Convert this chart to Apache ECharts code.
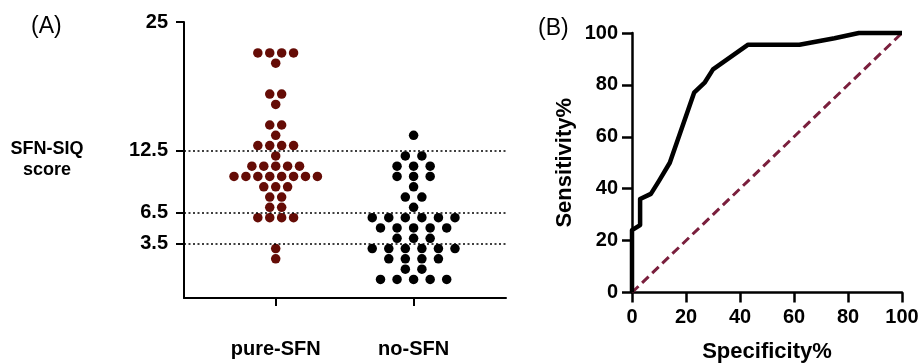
<!DOCTYPE html>
<html>
<head>
<meta charset="utf-8">
<script src="https://cdn.jsdelivr.net/npm/echarts@6/dist/echarts.min.js"></script>
<style>
  html, body { margin: 0; padding: 0; background: #fff; }
  #container { width: 919px; height: 363px; }
</style>
</head>
<body>
<div id="container"></div>
<script>
  // panel A: one entry per subject (SFN-SIQ score)
  let groups = ['pure-SFN', 'no-SFN'];
  let pureScores = [22, 22, 22, 22, 21, 18, 18, 17, 15, 15, 14, 13, 13, 13, 13, 12,
    11, 11, 11, 11, 11, 10, 10, 10, 10, 10, 10, 10, 10, 9, 9, 9, 8, 8, 7, 7,
    6, 6, 6, 6, 3, 2];
  let noScores = [14, 12, 12, 11, 11, 11, 10, 10, 10, 9, 8, 8, 7,
    6, 6, 6, 6, 6, 6, 5, 5, 5, 5, 5, 4, 4, 4, 3, 3, 3, 3, 3, 3, 2, 2, 2, 2, 1, 1,
    0, 0, 0, 0, 0];
  let cutoffs = [12.5, 6.5, 3.5];
  let yTicksA = [3.5, 6.5, 12.5, 25];

  // panel B: ROC curve
  let specificity = [0, 0, 3, 3, 7, 10, 14, 23, 27, 30, 43, 62, 75, 84, 100];
  let sensitivity = [0, 24, 26, 36, 38, 43, 50, 77, 81, 86, 95.5, 95.5, 98, 100, 100];

  let font = 'Liberation Sans, Arial, sans-serif';

  // spread dots of the same score side by side (beeswarm)
  function swarm(scores, center, step) {
    let rows = {};
    scores.forEach(function (s) { rows[s] = (rows[s] || 0) + 1; });
    let pts = [];
    Object.keys(rows).forEach(function (k) {
      let n = rows[k];
      for (let i = 0; i < n; i++) {
        pts.push([center + (i - (n - 1) / 2) * step, Number(k)]);
      }
    });
    return pts;
  }

  let myChart = echarts.init(document.getElementById('container'));
  let tickLabel = { color: '#000', fontFamily: font, fontWeight: 'bold', fontSize: 20 };

  let option = {
    animation: false,
    graphic: [
      { type: 'text', left: 31, top: 15, style: { text: '(A)', font: '23px ' + font, fill: '#000' } },
      { type: 'text', left: 538, top: 17, style: { text: '(B)', font: '23px ' + font, fill: '#000' } }
    ],
    grid: [
      { left: 184, top: 22, width: 322, height: 276, outerBoundsMode: 'none' },
      { left: 632, top: 33, width: 270, height: 259.5, outerBoundsMode: 'none' }
    ],
    xAxis: [
      {
        gridIndex: 0, type: 'value', min: -0.665, max: 1.67,
        splitLine: { show: false },
        axisLine: { onZero: false, lineStyle: { color: '#000', width: 2 } },
        axisTick: { customValues: [0, 1], length: 8, lineStyle: { color: '#000', width: 2 } },
        axisLabel: Object.assign({}, tickLabel, {
          customValues: [0, 1], margin: 41,
          formatter: function (v) { return groups[Math.round(v)]; }
        })
      },
      {
        gridIndex: 1, type: 'value', min: 0, max: 100, interval: 20,
        name: 'Specificity%', nameLocation: 'middle', nameGap: 48,
        nameTextStyle: { color: '#000', fontFamily: font, fontWeight: 'bold', fontSize: 22 },
        splitLine: { show: false },
        axisLine: { onZero: false, lineStyle: { color: '#000', width: 2.5 } },
        axisTick: { length: 10, lineStyle: { color: '#000', width: 2.5 } },
        axisLabel: Object.assign({}, tickLabel, { margin: 15 })
      }
    ],
    yAxis: [
      {
        gridIndex: 0, type: 'value', min: -1.8, max: 25,
        name: 'SFN-SIQ\nscore', nameLocation: 'middle', nameGap: 137, nameRotate: 0,
        nameTextStyle: { color: '#000', fontFamily: font, fontWeight: 'bold', fontSize: 18,
          align: 'center', lineHeight: 21 },
        splitLine: { show: false },
        axisLine: { onZero: false, lineStyle: { color: '#000', width: 2 } },
        axisTick: { customValues: yTicksA, length: 8, lineStyle: { color: '#000', width: 2 } },
        axisLabel: Object.assign({}, tickLabel, { customValues: yTicksA, margin: 16 })
      },
      {
        gridIndex: 1, type: 'value', min: 0, max: 100, interval: 20,
        name: 'Sensitivity%', nameLocation: 'middle', nameGap: 56,
        nameTextStyle: { color: '#000', fontFamily: font, fontWeight: 'bold', fontSize: 22 },
        splitLine: { show: false },
        axisLine: { onZero: false, lineStyle: { color: '#000', width: 2.5 } },
        axisTick: { length: 10, lineStyle: { color: '#000', width: 2.5 } },
        axisLabel: Object.assign({}, tickLabel, { margin: 14 })
      }
    ],
    series: [
      {
        type: 'scatter', xAxisIndex: 0, yAxisIndex: 0,
        data: swarm(pureScores, 0, 0.0864),
        symbolSize: 9.5,
        itemStyle: { color: '#650c06', opacity: 1 },
        markLine: {
          silent: true, symbol: 'none',
          label: { show: false },
          lineStyle: { color: '#000', type: [2, 2.5], width: 1.5 },
          data: cutoffs.map(function (c) { return { yAxis: c }; })
        }
      },
      {
        type: 'scatter', xAxisIndex: 0, yAxisIndex: 0,
        data: swarm(noScores, 1, 0.12),
        symbolSize: 9.5,
        itemStyle: { color: '#000', opacity: 1 }
      },
      {
        type: 'line', xAxisIndex: 1, yAxisIndex: 1,
        data: [[0, 0], [100, 100]],
        symbol: 'none',
        lineStyle: { color: '#7a1f3d', width: 3, type: [9, 5] }
      },
      {
        type: 'line', xAxisIndex: 1, yAxisIndex: 1,
        data: specificity.map(function (x, i) { return [x, sensitivity[i]]; }),
        symbol: 'none', clip: false, z: 5,
        lineStyle: { color: '#000', width: 4.5, join: 'round' }
      }
    ]
  };
  myChart.setOption(option);
</script>
</body>
</html>
